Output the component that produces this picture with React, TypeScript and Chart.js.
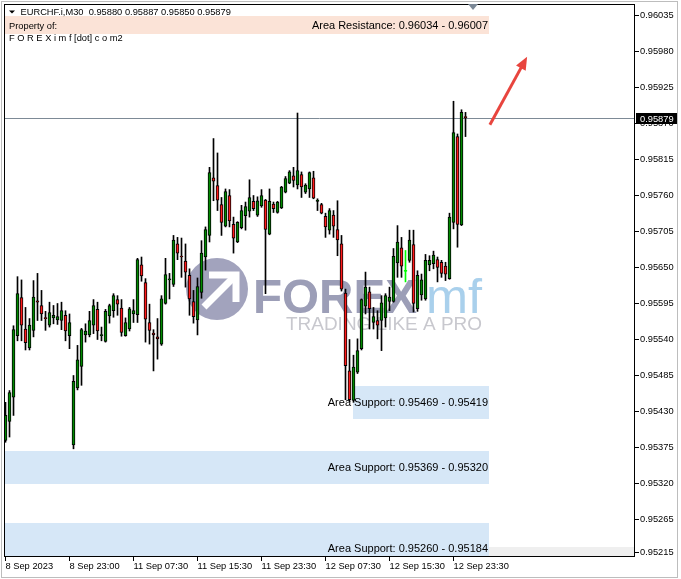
import React, { useEffect, useRef } from "react";
import { Chart, registerables } from "chart.js";

Chart.register(...registerables);

const SYMBOL = "EURCHF.i,M30";

const OPEN = [
  0.95386, 0.95415, 0.95452, 0.95546, 0.95604, 0.95556, 0.95527, 0.95554, 0.95599, 0.95592,
  0.95573, 0.95562, 0.95573, 0.9557, 0.95569, 0.95577, 0.95546, 0.95379, 0.95466, 0.95499,
  0.95547, 0.95547, 0.95562, 0.95586, 0.95546, 0.95537, 0.95576, 0.95584, 0.95601, 0.95588,
  0.95546, 0.95556, 0.95579, 0.95578, 0.95654, 0.95627, 0.95566, 0.9555, 0.95544, 0.95533,
  0.95595, 0.95631, 0.95624, 0.95686, 0.95667, 0.9566, 0.95638, 0.95598, 0.9557, 0.95612,
  0.95666, 0.95699, 0.95787, 0.95775, 0.95746, 0.95713, 0.9576, 0.95716, 0.95689, 0.95711,
  0.95729, 0.95736, 0.95751, 0.9573, 0.95744, 0.95753, 0.95701, 0.95747, 0.95734, 0.95741,
  0.95765, 0.95779, 0.9579, 0.95776, 0.95792, 0.95765, 0.9577, 0.95787, 0.95751, 0.95746,
  0.95728, 0.95707, 0.9573, 0.95708, 0.95686, 0.95611, 0.95492, 0.95447, 0.9549, 0.95526,
  0.95591, 0.95613, 0.95566, 0.95569, 0.95569, 0.95573, 0.95598, 0.95598, 0.95657, 0.9568,
  0.95644, 0.95661, 0.95685, 0.95587, 0.95608, 0.95602, 0.95654, 0.95656, 0.95662, 0.95658,
  0.95652, 0.95633, 0.95719, 0.9585, 0.95715, 0.9588,
];
const HIGH = [
  0.95444, 0.95462, 0.95561, 0.95636, 0.95631, 0.95589, 0.95572, 0.9563, 0.95641, 0.95615,
  0.95583, 0.95597, 0.95592, 0.95595, 0.95597, 0.95584, 0.95579, 0.95485, 0.95531, 0.95557,
  0.95564, 0.95583, 0.95601, 0.95597, 0.95559, 0.95586, 0.95594, 0.9561, 0.95607, 0.95601,
  0.95573, 0.95589, 0.95601, 0.95664, 0.95666, 0.95633, 0.95594, 0.95555, 0.95572, 0.95607,
  0.95664, 0.95641, 0.95699, 0.95696, 0.95695, 0.95686, 0.95648, 0.95615, 0.95634, 0.95691,
  0.95712, 0.95803, 0.95847, 0.95825, 0.95757, 0.9577, 0.95769, 0.95727, 0.9572, 0.95745,
  0.9575, 0.95784, 0.9576, 0.95758, 0.95769, 0.95754, 0.9577, 0.9575, 0.95751, 0.95774,
  0.95789, 0.95798, 0.95803, 0.95886, 0.95796, 0.95778, 0.95796, 0.95797, 0.95755, 0.95748,
  0.95733, 0.9574, 0.95737, 0.95752, 0.95699, 0.95617, 0.9554, 0.95516, 0.95541, 0.95602,
  0.95643, 0.9562, 0.95589, 0.95584, 0.95607, 0.9561, 0.9562, 0.95679, 0.95714, 0.95696,
  0.95676, 0.95707, 0.95707, 0.95645, 0.9564, 0.9567, 0.95668, 0.95675, 0.95666, 0.95661,
  0.95658, 0.95733, 0.95904, 0.95854, 0.95891, 0.95887,
];
const LOW = [
  0.95383, 0.95391, 0.95424, 0.95538, 0.95538, 0.95524, 0.95524, 0.95544, 0.95569, 0.95569,
  0.95554, 0.95559, 0.95564, 0.95563, 0.95555, 0.95538, 0.95526, 0.95373, 0.95463, 0.9547,
  0.95536, 0.95544, 0.95549, 0.9554, 0.95538, 0.95536, 0.95565, 0.95574, 0.95577, 0.95545,
  0.95545, 0.95553, 0.95566, 0.95566, 0.95629, 0.95536, 0.95533, 0.95492, 0.9551, 0.95531,
  0.95594, 0.95602, 0.95621, 0.95662, 0.95635, 0.9562, 0.95577, 0.95565, 0.95547, 0.95603,
  0.95646, 0.95689, 0.95752, 0.95737, 0.95699, 0.95712, 0.95712, 0.95672, 0.95688, 0.95709,
  0.95707, 0.95727, 0.95737, 0.95728, 0.95742, 0.9561, 0.957, 0.95734, 0.95733, 0.9574,
  0.95764, 0.95778, 0.95773, 0.9577, 0.95757, 0.95763, 0.95757, 0.95755, 0.95737, 0.95732,
  0.95696, 0.95701, 0.95696, 0.95668, 0.95614, 0.95448, 0.95445, 0.95444, 0.95488, 0.95524,
  0.95579, 0.95556, 0.95556, 0.95541, 0.95523, 0.95559, 0.95584, 0.95597, 0.95635, 0.95635,
  0.95628, 0.95658, 0.95582, 0.95583, 0.956, 0.956, 0.95645, 0.95648, 0.95628, 0.95635,
  0.9563, 0.95632, 0.95709, 0.95681, 0.95714, 0.9585,
];
const CLOSE = [
  0.95424, 0.95459, 0.95555, 0.9561, 0.95562, 0.95535, 0.95562, 0.95605, 0.95597, 0.95579,
  0.95572, 0.95581, 0.95577, 0.95575, 0.95584, 0.95553, 0.95566, 0.95476, 0.95509, 0.95555,
  0.95553, 0.95569, 0.95592, 0.95553, 0.95547, 0.95583, 0.95592, 0.95607, 0.95594, 0.95551,
  0.95566, 0.95587, 0.95584, 0.95662, 0.95637, 0.95571, 0.95554, 0.95547, 0.95541, 0.95602,
  0.95639, 0.95632, 0.95692, 0.95672, 0.95666, 0.95643, 0.95602, 0.95575, 0.95621, 0.95672,
  0.95708, 0.95795, 0.95782, 0.95753, 0.95719, 0.95766, 0.95721, 0.95695, 0.95719, 0.95737,
  0.95743, 0.95757, 0.9574, 0.95752, 0.9576, 0.95708, 0.95751, 0.9574, 0.9575, 0.95773,
  0.95786, 0.95796, 0.95783, 0.95798, 0.95773, 0.95776, 0.95795, 0.95756, 0.95753, 0.95733,
  0.95712, 0.95737, 0.95713, 0.95692, 0.95617, 0.955, 0.95448, 0.95498, 0.95523, 0.95601,
  0.9562, 0.95587, 0.95575, 0.95562, 0.95596, 0.95607, 0.95605, 0.95667, 0.95689, 0.95652,
  0.95644, 0.95692, 0.95595, 0.95638, 0.95631, 0.95661, 0.95661, 0.95669, 0.9565, 0.95641,
  0.9564, 0.95727, 0.95856, 0.95716, 0.95887, 0.95879,
];

const X_TICK_BARS = [0, 16, 32, 48, 64, 80, 96, 112];
const X_TICK_LABELS = [
  "8 Sep 2023",
  "8 Sep 23:00",
  "11 Sep 07:30",
  "11 Sep 15:30",
  "11 Sep 23:30",
  "12 Sep 07:30",
  "12 Sep 15:30",
  "12 Sep 23:30",
];
const Y_TICKS = [
  0.96035, 0.9598, 0.95925, 0.9587, 0.95815, 0.9576, 0.95705, 0.9565, 0.95595, 0.9554,
  0.95485, 0.9543, 0.95375, 0.9532, 0.95265, 0.95215,
];
const X_MIN = -0.375;
const X_MAX = 157.375;
const Y_MIN = 0.9520771;
const Y_MAX = 0.9605257;
const BID = 0.95879;

const ZONE_NAMES = ["Area Resistance", "Area Support", "Area Support", "Area Support"];
const ZONE_HIGH = [0.96034, 0.95469, 0.95369, 0.9526];
const ZONE_LOW = [0.96007, 0.95419, 0.9532, 0.95184];
const ZONE_FROM_BAR: (number | null)[] = [null, 86.9, null, null];
const ZONE_TO_BAR = 120.9;
const BAND_TOP = 0.95223;

const ARROW_FROM = [121.1, 0.95868];
const ARROW_TO = [130.4, 0.95972];
const SHIFT_MARK_BAR = 117;

const PROPERTY_LINES = ["Property of:", "F O R E X i m f [dot] c o m2"];
const WATERMARK = ["FOREX", "mf", "TRADING LIKE A PRO"];

const FONT = '"Liberation Sans", Arial, sans-serif';
const GREEN = "#008a00";
const RED = "#ff1a1a";
const DOJI = "#00ff00";

const fmt = (v: number) => v.toFixed(5);

const overlayPlugin = {
  id: "mtOverlay",
  beforeDatasetsDraw(chart: any) {
    const { ctx, chartArea: a, scales } = chart;
    const x = scales.x;
    const y = scales.y;
    ctx.save();
    ctx.beginPath();
    ctx.rect(a.left, a.top, a.right - a.left, a.bottom - a.top);
    ctx.clip();

    const xEnd = Math.round(x.getPixelForValue(ZONE_TO_BAR));
    ctx.fillStyle = "#efefef";
    const by = Math.round(y.getPixelForValue(BAND_TOP));
    ctx.fillRect(xEnd, by, a.right - xEnd, a.bottom - by);

    for (let k = 0; k < ZONE_NAMES.length; k++) {
      const from = ZONE_FROM_BAR[k];
      const x0 = from === null ? a.left : Math.round(x.getPixelForValue(from));
      const y0 = Math.round(y.getPixelForValue(ZONE_HIGH[k]));
      const y1 = Math.round(y.getPixelForValue(ZONE_LOW[k]));
      ctx.fillStyle = k === 0 ? "#fbe3d7" : "#d6e7f7";
      ctx.fillRect(x0, y0, xEnd - x0, y1 - y0);
    }

    // watermark
    const ox = a.left;
    const oy = a.top;
    ctx.fillStyle = "#a2a3bd";
    ctx.beginPath();
    ctx.arc(ox + 213, oy + 285, 31, 0, Math.PI * 2);
    ctx.fill();
    ctx.strokeStyle = "#ffffff";
    ctx.lineWidth = 7;
    ctx.beginPath();
    ctx.moveTo(ox + 205, oy + 271);
    ctx.lineTo(ox + 232, oy + 271);
    ctx.lineTo(ox + 232, oy + 298);
    ctx.stroke();
    ctx.beginPath();
    ctx.moveTo(ox + 230, oy + 273);
    ctx.lineTo(ox + 200, oy + 303);
    ctx.stroke();

    ctx.textBaseline = "alphabetic";
    ctx.textAlign = "left";
    ctx.font = `bold 49px ${FONT}`;
    ctx.fillStyle = "#9c9eb7";
    const w0 = ctx.measureText(WATERMARK[0]).width;
    ctx.save();
    ctx.translate(ox + 249, oy + 309);
    ctx.scale(164 / w0, 1);
    ctx.fillText(WATERMARK[0], 0, 0);
    ctx.restore();
    ctx.font = `49px ${FONT}`;
    ctx.fillStyle = "#a9d0ec";
    const w1 = ctx.measureText(WATERMARK[1]).width;
    ctx.save();
    ctx.translate(ox + 422, oy + 309);
    ctx.scale(56 / w1, 1);
    ctx.fillText(WATERMARK[1], 0, 0);
    ctx.restore();
    ctx.font = `18.6px ${FONT}`;
    ctx.fillStyle = "#c8c8ce";
    const w2 = ctx.measureText(WATERMARK[2]).width;
    ctx.save();
    ctx.translate(ox + 282, oy + 326);
    ctx.scale(196 / w2, 1);
    ctx.fillText(WATERMARK[2], 0, 0);
    ctx.restore();

    const bidY = Math.round(y.getPixelForValue(BID)) + 0.5;
    ctx.strokeStyle = "#7d8a96";
    ctx.lineWidth = 1;
    ctx.beginPath();
    ctx.moveTo(a.left, bidY);
    ctx.lineTo(a.right, bidY);
    ctx.stroke();

    ctx.restore();
  },
  afterDatasetsDraw(chart: any) {
    const { ctx, chartArea: a, scales } = chart;
    const x = scales.x;
    const y = scales.y;
    ctx.save();

    const xEnd = Math.round(x.getPixelForValue(ZONE_TO_BAR));
    ctx.font = `11px ${FONT}`;
    ctx.fillStyle = "#000";
    ctx.textAlign = "right";
    ctx.textBaseline = "middle";
    for (let k = 0; k < ZONE_NAMES.length; k++) {
      const mid = y.getPixelForValue((ZONE_HIGH[k] + ZONE_LOW[k]) / 2);
      const txt = `${ZONE_NAMES[k]}: ${fmt(ZONE_HIGH[k])} - ${fmt(ZONE_LOW[k])}`;
      ctx.fillText(txt, xEnd - 1, Math.min(mid + 1, a.bottom - 7));
    }

    // red arrow
    const ax0 = x.getPixelForValue(ARROW_FROM[0]);
    const ay0 = y.getPixelForValue(ARROW_FROM[1]);
    const ax1 = x.getPixelForValue(ARROW_TO[0]);
    const ay1 = y.getPixelForValue(ARROW_TO[1]);
    const dx = ax1 - ax0;
    const dy = ay1 - ay0;
    const len = Math.hypot(dx, dy);
    const ux = dx / len;
    const uy = dy / len;
    const head = 13;
    ctx.strokeStyle = "#e8453e";
    ctx.fillStyle = "#e8453e";
    ctx.lineWidth = 3;
    ctx.beginPath();
    ctx.moveTo(ax0, ay0);
    ctx.lineTo(ax1 - ux * head * 0.8, ay1 - uy * head * 0.8);
    ctx.stroke();
    ctx.beginPath();
    ctx.moveTo(ax1, ay1);
    ctx.lineTo(ax1 - ux * head - uy * 5.5, ay1 - uy * head + ux * 5.5);
    ctx.lineTo(ax1 - ux * head + uy * 5.5, ay1 - uy * head - ux * 5.5);
    ctx.closePath();
    ctx.fill();

    // frame
    ctx.strokeStyle = "#000";
    ctx.lineWidth = 1;
    ctx.strokeRect(a.left + 0.5, a.top + 0.5, a.right - a.left - 1, a.bottom - a.top - 1);

    // shift marker
    const sx = Math.round(x.getPixelForValue(SHIFT_MARK_BAR));
    ctx.fillStyle = "#7b8896";
    ctx.beginPath();
    ctx.moveTo(sx - 5, a.top);
    ctx.lineTo(sx + 5, a.top);
    ctx.lineTo(sx, a.top + 6);
    ctx.closePath();
    ctx.fill();

    // title
    const n = CLOSE.length - 1;
    ctx.fillStyle = "#000";
    ctx.beginPath();
    ctx.moveTo(a.left + 5, a.top + 6.5);
    ctx.lineTo(a.left + 11, a.top + 6.5);
    ctx.lineTo(a.left + 8, a.top + 9.5);
    ctx.closePath();
    ctx.fill();
    ctx.font = `9.3px ${FONT}`;
    ctx.textAlign = "left";
    ctx.textBaseline = "alphabetic";
    ctx.fillText(
      `${SYMBOL}  ${fmt(OPEN[n])} ${fmt(HIGH[n])} ${fmt(LOW[n])} ${fmt(CLOSE[n])}`,
      a.left + 16.5,
      a.top + 11.3
    );
    ctx.fillText(PROPERTY_LINES[0], a.left + 5, a.top + 24.5);
    ctx.fillText(PROPERTY_LINES[1], a.left + 5, a.top + 36.5);

    // bid price label
    const bidY = Math.round(y.getPixelForValue(BID));
    ctx.fillStyle = "#000";
    ctx.fillRect(a.right + 1, bidY - 5, 41, 11);
    ctx.fillStyle = "#fff";
    ctx.textBaseline = "middle";
    ctx.fillText(fmt(BID), a.right + 5, bidY + 1);

    ctx.restore();
  },
  afterDraw(chart: any) {
    const { ctx, width, height } = chart;
    ctx.save();
    ctx.strokeStyle = "#bdbdbd";
    ctx.lineWidth = 1;
    ctx.strokeRect(1.5, 1.5, width - 5, height - 3);
    ctx.restore();
  },
};

export default function App() {
  const ref = useRef<HTMLCanvasElement | null>(null);

  useEffect(() => {
    const canvas = ref.current;
    if (!canvas) return;

    const dir = OPEN.map((o, i) => (CLOSE[i] > o ? 1 : CLOSE[i] < o ? -1 : 0));
    const bodyFill = dir.map((d) => (d > 0 ? GREEN : d < 0 ? RED : DOJI));
    const lineColor = dir.map((d) => (d === 0 ? DOJI : "#000"));

    const chart = new Chart(canvas, {
      type: "bar",
      data: {
        datasets: [
          {
            label: "body",
            data: OPEN.map((o, i) => ({ x: i, y: [o, CLOSE[i]] })) as any,
            backgroundColor: bodyFill,
            borderColor: lineColor,
            borderWidth: 1,
            borderSkipped: false,
            barThickness: 3,
            minBarLength: 1,
            grouped: false,
            order: 0,
          } as any,
          {
            label: "wick",
            data: LOW.map((l, i) => ({ x: i, y: [l, HIGH[i]] })) as any,
            backgroundColor: lineColor,
            borderWidth: 0,
            barThickness: 1,
            grouped: false,
            order: 1,
          } as any,
        ],
      },
      options: {
        animation: false,
        responsive: false,
        maintainAspectRatio: false,
        events: [],
        layout: { padding: { left: 4, top: 4, right: 0, bottom: 0 } },
        plugins: { legend: { display: false }, tooltip: { enabled: false } },
        scales: {
          x: {
            type: "linear",
            offset: false,
            min: X_MIN,
            max: X_MAX,
            afterBuildTicks: (s: any) => {
              s.ticks = X_TICK_BARS.map((v) => ({ value: v }));
            },
            afterFit: (s: any) => {
              s.height = 22;
              s.paddingLeft = 0;
              s.paddingRight = 0;
              s.paddingTop = 0;
              s.paddingBottom = 0;
            },
            grid: {
              display: true,
              offset: false,
              drawOnChartArea: false,
              drawTicks: true,
              tickLength: 4,
              color: "#000",
            },
            border: { display: false },
            ticks: {
              autoSkip: false,
              maxRotation: 0,
              minRotation: 0,
              align: "start",
              padding: 0,
              color: "#000",
              font: { family: FONT, size: 9.3 },
              callback: (_v: any, i: number) => X_TICK_LABELS[i],
            },
          },
          y: {
            type: "linear",
            position: "right",
            min: Y_MIN,
            max: Y_MAX,
            afterBuildTicks: (s: any) => {
              s.ticks = Y_TICKS.map((v) => ({ value: v }));
            },
            afterFit: (s: any) => {
              s.width = 46;
              s.paddingLeft = 0;
              s.paddingRight = 0;
              s.paddingTop = 0;
              s.paddingBottom = 0;
            },
            grid: {
              display: true,
              drawOnChartArea: false,
              drawTicks: true,
              tickLength: 4,
              color: "#000",
            },
            border: { display: false },
            ticks: {
              autoSkip: false,
              padding: 1,
              color: "#000",
              font: { family: FONT, size: 9.3 },
              callback: (v: any) => Number(v).toFixed(5),
            },
          },
        },
      } as any,
      plugins: [overlayPlugin],
    });

    return () => chart.destroy();
  }, []);

  return (
    <div style={{ position: "fixed", left: 0, top: 0, width: 681, height: 579, background: "#fff" }}>
      <canvas ref={ref} width={681} height={579} style={{ width: 681, height: 579, display: "block" }} />
    </div>
  );
}
